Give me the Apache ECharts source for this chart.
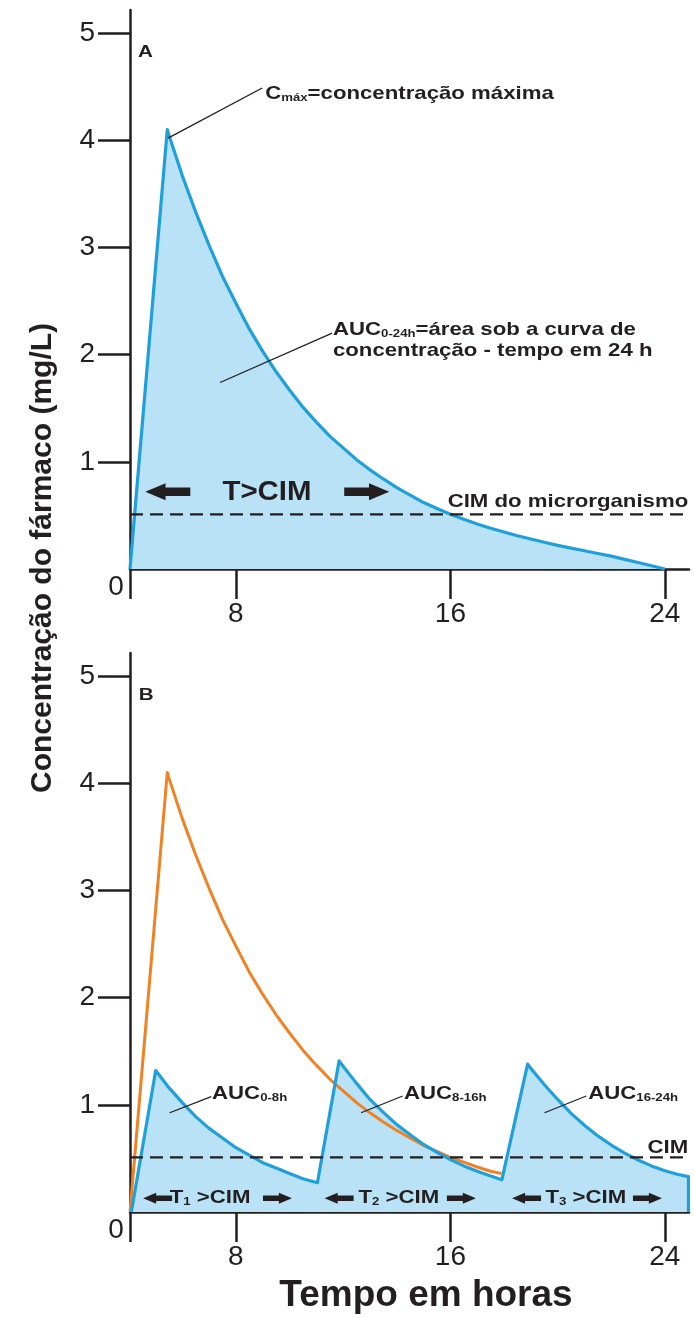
<!DOCTYPE html>
<html><head><meta charset="utf-8">
<script src="https://cdn.jsdelivr.net/npm/echarts@6/dist/echarts.min.js"></script>
<style>html,body{margin:0;padding:0;background:#fff}#c{width:694px;height:1318px}</style>
</head><body><div id="c"></div>
<script>
// ---------- data ----------
const X_MIN = 4.05, X_MAX = 24.9, Y_MAX = 5.215;
const X_TICKS = [8, 16, 24];
const Y_TICKS = [1, 2, 3, 4, 5];
const CIM = 0.51;

// Panel A: single dose
const hoursA = [4.05, 5.44, 5.5, 6, 6.5, 7, 7.5, 8, 8.5, 9, 9.5, 10, 10.5, 11, 11.5, 12, 12.5, 13, 13.5, 14, 14.5, 15, 15.5, 16, 16.5, 17, 17.5, 18, 18.5, 19, 19.5, 20, 20.5, 21, 21.5, 22, 22.5, 23, 23.5, 24];
const concA  = [0, 4.10, 4.05, 3.67, 3.33, 3.02, 2.73, 2.48, 2.24, 2.03, 1.84, 1.67, 1.51, 1.37, 1.24, 1.13, 1.02, 0.925, 0.84, 0.76, 0.69, 0.62, 0.565, 0.51, 0.465, 0.42, 0.38, 0.345, 0.31, 0.28, 0.25, 0.22, 0.195, 0.17, 0.145, 0.12, 0.09, 0.06, 0.03, 0];

// Panel B: single dose (orange) vs three doses every 8 h (blue)
const hoursOrange = [4.05, 5.44, 5.5, 6, 6.5, 7, 7.5, 8, 8.5, 9, 9.5, 10, 10.5, 11, 11.5, 12, 12.5, 13, 13.5, 14, 14.5, 15, 15.5, 16, 16.5, 17, 17.5, 17.9];
const concOrange  = [0, 4.10, 4.05, 3.67, 3.33, 3.02, 2.73, 2.48, 2.24, 2.03, 1.84, 1.67, 1.51, 1.37, 1.24, 1.13, 1.02, 0.925, 0.84, 0.76, 0.69, 0.62, 0.565, 0.51, 0.465, 0.42, 0.38, 0.36];
const hoursB = [4.1, 5.01, 5.5, 6, 6.5, 7, 7.5, 8, 8.5, 9, 9.5, 10, 10.5, 11.04,
                11.85, 12, 12.5, 13, 13.5, 14, 14.5, 15, 15.5, 16, 16.5, 17, 17.5, 17.92,
                18.88, 19, 19.5, 20, 20.5, 21, 21.5, 22, 22.5, 23, 23.5, 24, 24.5, 24.88, 24.88];
const concB  = [0, 1.32, 1.16, 1.02, 0.89, 0.78, 0.69, 0.60, 0.53, 0.46, 0.41, 0.36, 0.31, 0.273,
                1.41, 1.36, 1.20, 1.05, 0.93, 0.815, 0.72, 0.63, 0.556, 0.49, 0.43, 0.38, 0.335, 0.30,
                1.38, 1.34, 1.19, 1.05, 0.92, 0.81, 0.71, 0.625, 0.55, 0.485, 0.43, 0.385, 0.35, 0.33, 0];

// ---------- styling / annotation layout ----------
const INK = '#231f20', BLUE = '#1fa0db', FILL = '#b9e2f6', ORANGE = '#f08224';
const FF = '"Liberation Sans", Arial, Helvetica, sans-serif';
const pairs = (xs, ys) => xs.map((x, i) => [x, ys[i]]);

const leadersA = [[[5.47, 4.02], [8.98, 4.487]], [[7.41, 1.74], [11.59, 2.20]]];
const leadersB = [[[5.53, 0.926], [7.08, 1.076]], [[12.67, 0.926], [14.22, 1.082]], [[19.51, 0.926], [21.07, 1.082]]];
const arrowsA = [{at: [5.46, 0.72], dir: 'L'}, {at: [12.88, 0.72], dir: 'R'}];
const arrowsB = [
  {at: [5.08, 0.128], dir: 'L'}, {at: [9.55, 0.128], dir: 'R'},
  {at: [11.85, 0.128], dir: 'L'}, {at: [16.41, 0.128], dir: 'R'},
  {at: [18.84, 0.128], dir: 'L'}, {at: [23.35, 0.128], dir: 'R'}
];
const LEFT_ARROW = 'path://M0,20 L45,0 L45,10 L100,10 L100,30 L45,30 L45,40 Z';
const RIGHT_ARROW = 'path://M100,20 L55,0 L55,10 L0,10 L0,30 L55,30 L55,40 Z';

const RICH = {
  p: {fontSize: 16.5, fontWeight: 'bold', fontFamily: FF, color: INK},
  b: {fontSize: 18.5, fontWeight: 'bold', fontFamily: FF, color: INK},
  s: {fontSize: 11, fontWeight: 'bold', fontFamily: FF, color: INK, padding: [8, 0, 0, 0]},
  t: {fontSize: 28, fontWeight: 'bold', fontFamily: FF, color: INK},
  n: {fontSize: 28, fontFamily: FF, color: INK}
};

const annA = [
  {at: [4.63, 4.82], text: '{p|A}', align: 'center', sx: 1.25},
  {at: [9.09, 4.436], text: '{b|C}{s|máx}{b|=concentração máxima}', align: 'left'},
  {at: [11.62, 2.23], text: '{b|AUC}{s|0-24h}{b|=área sob a curva de}', align: 'left'},
  {at: [11.62, 2.03], text: '{b|concentração - tempo em 24 h}', align: 'left'},
  {at: [9.16, 0.72], text: '{t|T>CIM}', align: 'center', sx: 1.05},
  {at: [24.87, 0.63], text: '{b|CIM do microrganismo}', align: 'right'},
  {at: [X_MIN, 0], text: '{n|0}', align: 'center', sx: 1, dx: -14, dy: 18}
];
const annB = [
  {at: [4.65, 4.82], text: '{p|B}', align: 'center', sx: 1.25},
  {at: [7.11, 1.10], text: '{b|AUC}{s|0-8h}', align: 'left'},
  {at: [14.27, 1.10], text: '{b|AUC}{s|8-16h}', align: 'left'},
  {at: [21.14, 1.10], text: '{b|AUC}{s|16-24h}', align: 'left'},
  {at: [24.87, 0.60], text: '{b|CIM}', align: 'right'},
  {at: [7.04, 0.128], text: '{b|T}{s|1}{b| >CIM}', align: 'center'},
  {at: [14.08, 0.128], text: '{b|T}{s|2}{b| >CIM}', align: 'center'},
  {at: [21.05, 0.128], text: '{b|T}{s|3}{b| >CIM}', align: 'center'},
  {at: [X_MIN, 0], text: '{n|0}', align: 'center', sx: 1, dx: -14, dy: 18}
];

// ---------- chart ----------
const chart = echarts.init(document.getElementById('c'), null, {renderer: 'canvas'});

function mkX(i) {
  return {
    type: 'value', gridIndex: i, min: X_MIN, max: X_MAX,
    axisLine: {show: true, onZero: false, lineStyle: {color: INK, width: 2.5}},
    axisTick: {show: true, length: 30, customValues: [X_MIN].concat(X_TICKS), lineStyle: {color: INK, width: 2.5}},
    axisLabel: {show: true, customValues: X_TICKS, margin: 31, fontSize: 28, fontFamily: FF, color: INK},
    splitLine: {show: false}
  };
}
function mkY(i) {
  return {
    type: 'value', gridIndex: i, min: 0, max: Y_MAX, interval: 1,
    axisLine: {show: true, onZero: false, lineStyle: {color: INK, width: 2.5}},
    axisTick: {show: true, length: 32, customValues: Y_TICKS, lineStyle: {color: INK, width: 2.5}},
    axisLabel: {show: true, customValues: Y_TICKS, margin: 35, fontSize: 28, fontFamily: FF, color: INK},
    splitLine: {show: false}
  };
}
function lineS(i, data, color, width, extra) {
  return Object.assign({type: 'line', xAxisIndex: i, yAxisIndex: i, data, symbol: 'none', silent: true,
    lineStyle: {color, width, join: 'round'}, z: 3}, extra || {});
}
function arrowS(i, list, size) {
  return {type: 'scatter', xAxisIndex: i, yAxisIndex: i, silent: true, z: 5, clip: false,
    symbolSize: size, symbolKeepAspect: false, itemStyle: {color: INK, opacity: 1},
    data: list.map(a => ({value: a.at, symbol: a.dir === 'L' ? LEFT_ARROW : RIGHT_ARROW}))};
}

const series = [
  // Panel A
  lineS(0, pairs(hoursA, concA), BLUE, 3.2, {areaStyle: {color: FILL, opacity: 1}, z: 2}),
  lineS(0, [[X_MIN, CIM], [X_MAX, CIM]], INK, 2.2, {lineStyle: {color: INK, width: 2.2, type: [13, 7]}, z: 4}),
  ...leadersA.map(l => lineS(0, l, INK, 1.3, {z: 4})),
  arrowS(0, arrowsA, [45, 17]),
  // Panel B
  lineS(1, pairs(hoursB, concB), BLUE, 0, {areaStyle: {color: FILL, opacity: 1}, lineStyle: {width: 0, opacity: 0}, z: 1}),
  lineS(1, pairs(hoursOrange, concOrange), ORANGE, 3, {z: 2}),
  lineS(1, pairs(hoursB, concB), BLUE, 3.2, {z: 3}),
  lineS(1, [[X_MIN, CIM], [X_MAX, CIM]], INK, 2.2, {lineStyle: {color: INK, width: 2.2, type: [13, 7]}, z: 4}),
  ...leadersB.map(l => lineS(1, l, INK, 1.3, {z: 4})),
  arrowS(1, arrowsB, [29, 11])
];

chart.setOption({
  animation: false,
  backgroundColor: '#ffffff',
  grid: [
    {left: 130, top: 10, width: 559, height: 559},
    {left: 130, top: 653, width: 559, height: 559}
  ],
  xAxis: [mkX(0), mkX(1)],
  yAxis: [mkY(0), mkY(1)],
  series
});

function textEl(gridIndex, a) {
  const p = chart.convertToPixel({gridIndex}, a.at);
  return {
    type: 'text', silent: true, z: 100,
    x: p[0] + (a.dx || 0), y: p[1] + (a.dy || 0),
    scaleX: a.sx != null ? a.sx : 1.2,
    style: {text: a.text, rich: RICH, align: a.align, verticalAlign: 'middle', fill: INK, fontFamily: FF}
  };
}

const graphic = [
  ...annA.map(a => textEl(0, a)),
  ...annB.map(a => textEl(1, a)),
  {type: 'text', silent: true, x: 426, y: 1296,
    style: {text: 'Tempo em horas', fontSize: 37, fontWeight: 'bold', fontFamily: FF, fill: INK, align: 'center', verticalAlign: 'middle'}},
  {type: 'text', silent: true, x: 43, y: 558, rotation: Math.PI / 2,
    style: {text: 'Concentração do fármaco (mg/L)', fontSize: 30, fontWeight: 'bold', fontFamily: FF, fill: INK, align: 'center', verticalAlign: 'middle'}}
];
chart.setOption({graphic});
</script>
</body></html>
